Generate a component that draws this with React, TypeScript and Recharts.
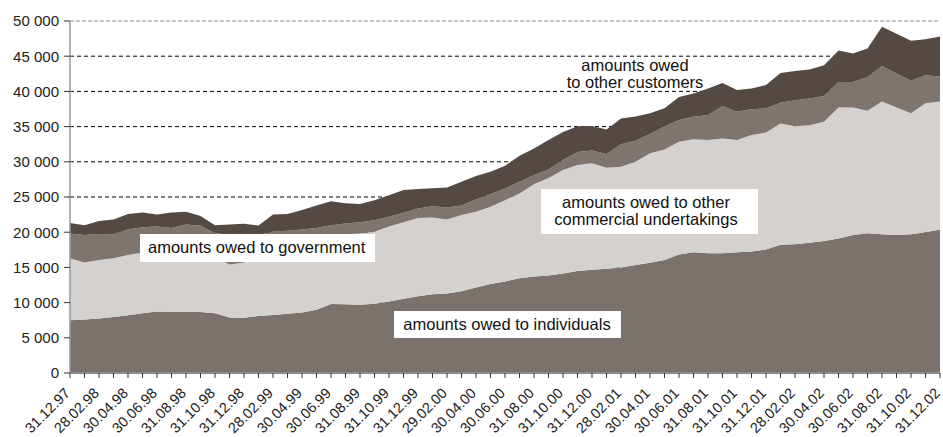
import { AreaChart, Area, XAxis, YAxis, CartesianGrid, ReferenceLine } from 'recharts';

// month-end dates, 31.12.97 .. 31.12.02
const dates = [
  '31.12.97',
  '31.01.98','28.02.98','31.03.98','30.04.98','31.05.98','30.06.98','31.07.98','31.08.98','30.09.98','31.10.98','30.11.98','31.12.98',
  '31.01.99','28.02.99','31.03.99','30.04.99','31.05.99','30.06.99','31.07.99','31.08.99','30.09.99','31.10.99','30.11.99','31.12.99',
  '31.01.00','29.02.00','31.03.00','30.04.00','31.05.00','30.06.00','31.07.00','31.08.00','30.09.00','31.10.00','30.11.00','31.12.00',
  '31.01.01','28.02.01','31.03.01','30.04.01','31.05.01','30.06.01','31.07.01','31.08.01','30.09.01','31.10.01','30.11.01','31.12.01',
  '31.01.02','28.02.02','31.03.02','30.04.02','31.05.02','30.06.02','31.07.02','31.08.02','30.09.02','31.10.02','30.11.02','31.12.02',
]

const individuals = [
  7500,7600,7750,7950,8200,8500,8750,8700,8650,8650,
  8500,7900,7850,8100,8250,8400,8600,9000,9800,9750,
  9700,9850,10150,10550,10900,11200,11300,11600,12150,12650,
  13000,13450,13700,13850,14150,14500,14650,14800,15000,15350,
  15650,16050,16850,17150,17000,17000,17150,17250,17550,18200,
  18300,18500,18750,19100,19600,19850,19700,19600,19700,20000,20400,
]
const commercial = [
  8800,8100,8300,8350,8550,8600,8450,8600,8750,8550,
  8000,7500,7850,8200,8950,9400,9900,10000,9600,9950,
  10100,10200,10650,10850,11100,10900,10500,10850,10750,10950,
  11550,12050,13100,13850,14700,15050,15150,14350,14300,14650,
  15550,15700,16000,16050,16100,16300,15950,16550,16600,17250,
  16750,16700,16950,18600,18100,17400,18850,18100,17200,18300,18150,
]
const government = [
  3500,3900,3700,3400,3650,3600,3600,3300,3700,3700,
  3400,4200,3800,3300,2900,2400,1900,1600,1600,1550,
  1600,1650,1400,1350,1350,1600,1700,1350,1750,1800,
  1650,1650,1300,1200,1400,1850,1800,1950,3200,3000,
  2750,3250,3100,3200,3550,4600,4000,3650,3450,2950,
  3700,3800,3650,3650,3650,4750,5050,4850,4600,4000,3550,
]
const otherCustomers = [
  1500,1400,1850,2100,2200,2100,1700,2200,1800,1400,
  1100,1500,1700,1350,2400,2400,2750,3200,3400,2850,
  2600,2850,3050,3250,2800,2550,2850,3350,3350,3200,
  3250,3700,3800,4200,4000,3650,3500,3500,3650,3450,
  2950,2600,3250,3300,3750,3300,3100,2950,3300,4200,
  4150,4100,4350,4450,4050,4100,5600,5650,5700,5100,5700,
]

const yTicks = [0,5000,10000,15000,20000,25000,30000,35000,40000,45000,50000]

const data = dates.map((d,i)=>({
  date:d, individuals:individuals[i], commercial:commercial[i],
  government:government[i], other:otherCustomers[i],
}))

const font = '"Liberation Sans", Arial, sans-serif'

function DateTick(props:any) {
  const { x, y, payload, index } = props
  const i = payload?.index ?? index
  if (i % 2 !== 0) return <g />
  return (
    <g transform={`translate(${x+1},${y+14})`}>
      <text transform='rotate(-45)' textAnchor='end' fontSize={14.5} fontFamily={font} fill='#222'>
        {payload.value}
      </text>
    </g>
  )
}

export default function App() {
  return (
    <div style={{ position:'absolute', left:0, top:0, width:943, height:437, background:'white' }}>
      <AreaChart width={943} height={437} data={data}
        margin={{ top:21, right:3, bottom:0, left:0 }}>
        <CartesianGrid vertical={false} stroke='#000' strokeDasharray='4 3' />
        <XAxis dataKey='date' interval={0} tick={<DateTick />} height={64}
          tickSize={5} tickLine={{ stroke:'#333' }} axisLine={{ stroke:'#8c8c8c', strokeWidth:2 }} />
        <YAxis width={70} domain={[0,50000]} ticks={yTicks} interval={0}
          tickFormatter={(v)=> v===0 ? '0' : `${v/1000} 000`}
          tick={{ fontSize:15, fontFamily:font, fill:'#222' }}
          tickSize={6} tickMargin={5} tickLine={{ stroke:'#333' }}
          axisLine={{ stroke:'#9a9a9a', strokeWidth:1.5 }} />
        <Area type='linear' dataKey='individuals' stackId='1' stroke='none' fill='#7b726d' fillOpacity={1} isAnimationActive={false} />
        <Area type='linear' dataKey='commercial' stackId='1' stroke='none' fill='#d5d1cf' fillOpacity={1} isAnimationActive={false} />
        <Area type='linear' dataKey='government' stackId='1' stroke='none' fill='#7f756f' fillOpacity={1} isAnimationActive={false} />
        <Area type='linear' dataKey='other' stackId='1' stroke='none' fill='#554a43' fillOpacity={1} isAnimationActive={false} />
        <ReferenceLine y={50000} stroke='#fff' strokeWidth={2} />
        <ReferenceLine y={50000} stroke='#8a8a8a' strokeDasharray='4 2' />
      </AreaChart>
      <svg width={943} height={437} style={{ position:'absolute', left:0, top:0, pointerEvents:'none' }}
        fontFamily={font} fontSize={16.5} fill='#111'>
        <rect x={140} y={234} width={235} height={28} fill='#fff' />
        <text x={148} y={253}>amounts owed to government</text>
        <rect x={394} y={311} width={227} height={27} fill='#fff' />
        <text x={507} y={330} textAnchor='middle'>amounts owed to individuals</text>
        <rect x={541} y={189} width={217} height={45} fill='#fff' />
        <text x={646} y={208} textAnchor='middle'>amounts owed to other</text>
        <text x={646} y={225} textAnchor='middle'>commercial undertakings</text>
        <text x={635} y={71} textAnchor='middle'>amounts owed</text>
        <text x={635} y={88} textAnchor='middle'>to other customers</text>
      </svg>
    </div>
  )
}
